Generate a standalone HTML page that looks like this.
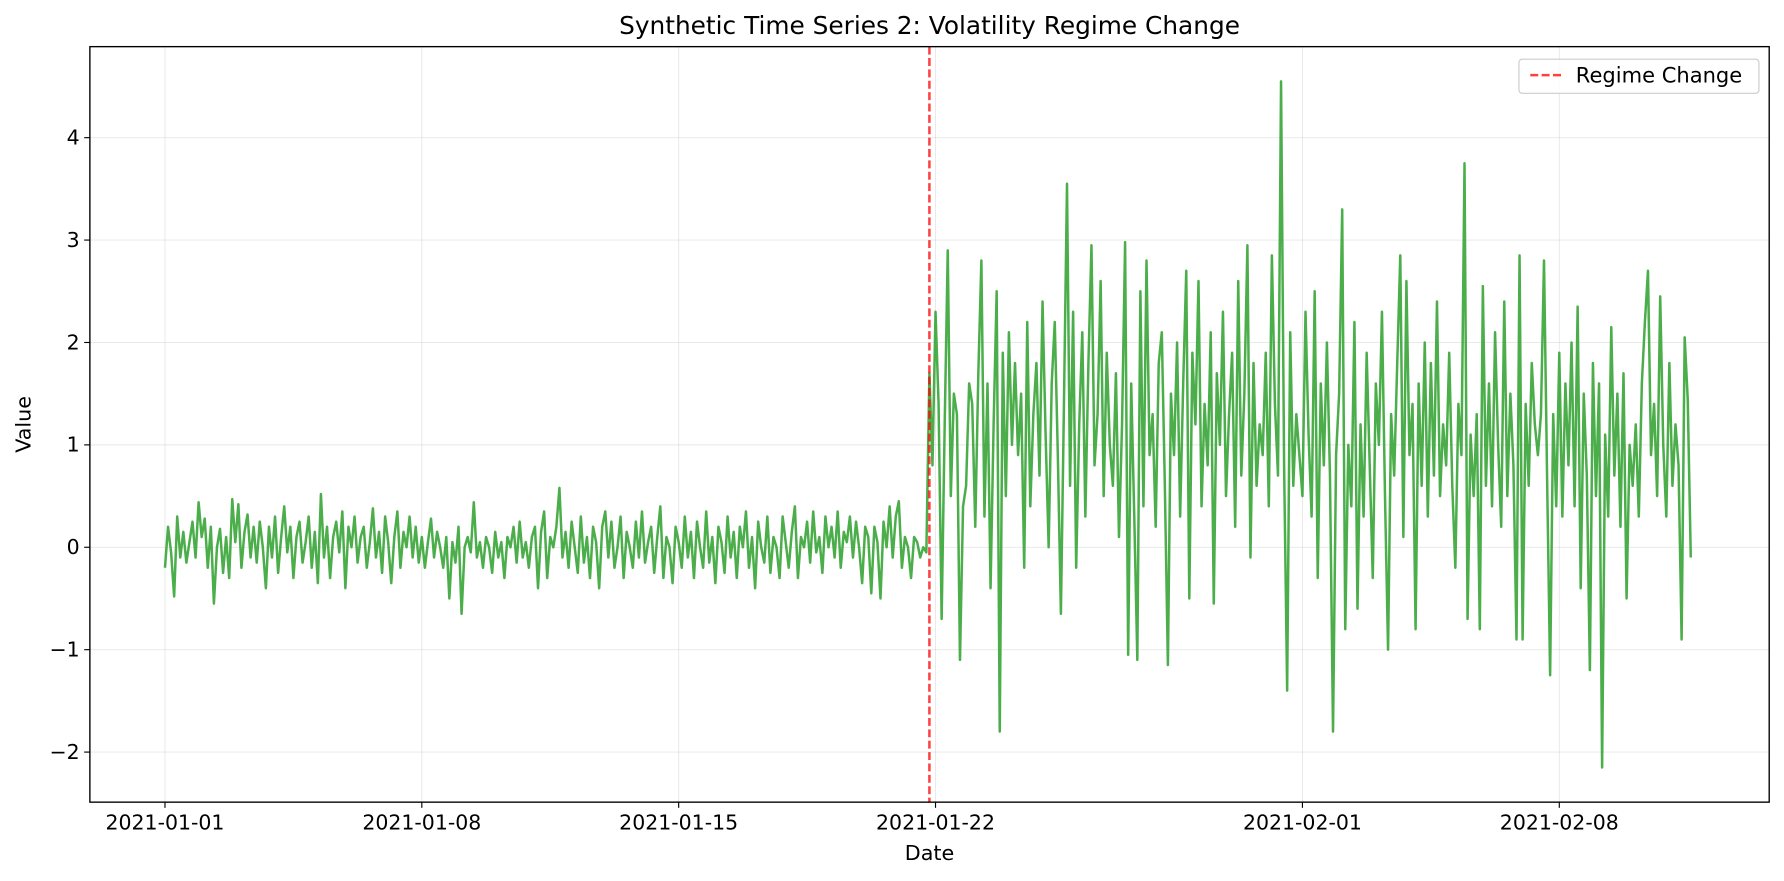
<!DOCTYPE html>
<html><head><meta charset="utf-8"><style>
html,body{margin:0;padding:0;background:#fff;}
svg{display:block;font-family:"DejaVu Sans","Liberation Sans",sans-serif;}
</style></head><body>
<svg id="chart" width="1784" height="881" viewBox="0 0 1568 774.3" preserveAspectRatio="none" xmlns="http://www.w3.org/2000/svg">
<rect x="0" y="0" width="1568" height="775" fill="#fff"/>
<g id="grid"></g>
<g id="series"></g>
<g id="axes"></g>
<text x="817" y="30" text-anchor="middle" font-size="21.8">Synthetic Time Series 2: Volatility Regime Change</text>
<text x="817" y="756" text-anchor="middle" font-size="18.2">Date</text>
<text x="27" y="373" text-anchor="middle" font-size="18.2" transform="rotate(-90 27 373)">Value</text>
<g>
<rect x="1335" y="52" width="211" height="30" rx="3" fill="#fff" fill-opacity="0.8" stroke="#ccc"/>
<line x1="1345" y1="66" x2="1374" y2="66" stroke="#ff0000" stroke-opacity="0.75" stroke-width="2.2" stroke-dasharray="7,3"/>
<text x="1385" y="72.5" font-size="18.5">Regime Change</text>
</g>
</svg>
<script>
const values1=[-0.2,0.2,-0.05,-0.48,0.3,-0.1,0.15,-0.15,0.05,0.25,
-0.1,0.44,0.1,0.28,-0.2,0.2,-0.55,0.0,0.18,-0.25,
0.1,-0.3,0.47,0.05,0.42,-0.2,0.15,0.32,-0.1,0.2,
-0.15,0.25,0.0,-0.4,0.2,-0.1,0.3,-0.25,0.1,0.4,
-0.05,0.2,-0.3,0.1,0.25,-0.15,0.05,0.3,-0.2,0.15,
-0.35,0.52,-0.1,0.2,-0.3,0.1,0.25,-0.05,0.35,-0.4,
0.2,0.0,0.3,-0.15,0.1,0.2,-0.2,0.05,0.38,-0.1,
0.15,-0.25,0.3,0.05,-0.35,0.1,0.35,-0.2,0.15,0.0,
0.3,-0.1,0.2,-0.15,0.1,-0.2,0.05,0.28,-0.1,0.15,
0.0,-0.2,0.1,-0.5,0.05,-0.15,0.2,-0.65,0.0,0.1,
-0.05,0.44,-0.1,0.05,-0.2,0.1,0.0,-0.25,0.15,-0.1,
0.05,-0.3,0.1,0.0,0.2,-0.15,0.25,-0.1,0.05,-0.2,
0.1,0.2,-0.4,0.15,0.35,-0.3,0.1,0.0,0.2,0.58,
-0.1,0.15,-0.2,0.25,0.0,-0.25,0.3,-0.15,0.1,-0.3,
0.2,0.05,-0.4,0.2,0.35,-0.1,0.25,-0.2,0.0,0.3,
-0.3,0.15,0.0,-0.2,0.25,-0.1,0.35,-0.15,0.05,0.2,
-0.25,0.1,0.4,-0.3,0.1,0.0,-0.35,0.2,0.05,-0.2,
0.3,-0.1,0.15,-0.3,0.25,0.0,-0.2,0.35,-0.15,0.1,
-0.35,0.2,0.05,-0.25,0.3,-0.1,0.15,-0.3,0.2,0.0,
0.35,-0.2,0.1,-0.4,0.25,0.0,-0.15,0.3,-0.25,0.1,
0.0,-0.3,0.3,0.05,-0.2,0.15,0.4,-0.3,0.1,0.0,
0.25,-0.15,0.35,-0.05,0.1,-0.25,0.3,0.0,0.2,-0.1,
0.35,-0.2,0.15,0.05,0.3,-0.1,0.25,0.0,-0.35,0.2,
0.1,-0.45,0.2,0.05,-0.5,0.25,0.0,0.4,-0.1,0.3,
0.45,-0.2,0.1,0.0,-0.3,0.1,0.05,-0.1,0.0,-0.05];
const values2=[1.7,0.8,2.3,1.4,-0.7,1.2,2.9,0.5,1.5,1.3,
-1.1,0.4,0.6,1.6,1.4,0.2,1.7,2.8,0.3,1.6,
-0.4,1.2,2.5,-1.8,1.9,0.5,2.1,1.0,1.8,0.9,
1.5,-0.2,2.2,0.4,1.3,1.8,0.7,2.4,1.1,0.0,
1.6,2.2,0.9,-0.65,1.4,3.55,0.6,2.3,-0.2,1.2,
2.1,0.3,1.8,2.95,0.8,1.3,2.6,0.5,1.9,1.0,
0.6,1.7,0.1,1.2,2.98,-1.05,1.6,0.3,-1.1,2.5,
0.4,2.8,0.9,1.3,0.2,1.8,2.1,0.6,-1.15,1.5,
0.9,2.0,0.3,1.6,2.7,-0.5,1.9,1.2,2.6,0.4,
1.4,0.8,2.1,-0.55,1.7,1.0,2.3,0.5,1.3,1.9,
0.2,2.6,0.7,1.5,2.95,-0.1,1.8,0.6,1.2,0.9,
1.9,0.4,2.85,1.4,0.7,4.55,0.8,-1.4,2.1,0.6,
1.3,0.9,0.5,2.3,1.1,0.3,2.5,-0.3,1.6,0.8,
2.0,0.7,-1.8,0.9,1.5,3.3,-0.8,1.0,0.4,2.2,
-0.6,1.2,0.3,1.9,0.8,-0.3,1.6,1.0,2.3,0.5,
-1.0,1.3,0.7,1.8,2.85,0.1,2.6,0.9,1.4,-0.8,
1.6,0.6,2.0,0.3,1.8,0.7,2.4,0.5,1.2,0.8,
1.9,0.6,-0.2,1.4,0.9,3.75,-0.7,1.1,0.5,1.3,
-0.8,2.55,0.6,1.6,0.4,2.1,1.0,0.2,2.4,0.5,
1.5,0.8,-0.9,2.85,-0.9,1.4,0.6,1.8,1.2,0.9,
1.3,2.8,0.7,-1.25,1.3,0.4,1.9,0.3,1.6,0.8,
2.0,0.4,2.35,-0.4,1.5,0.7,-1.2,1.8,0.5,1.6,
-2.15,1.1,0.3,2.15,0.7,1.5,0.2,1.7,-0.5,1.0,
0.6,1.2,0.3,1.6,2.2,2.7,0.9,1.4,0.5,2.45,
1.0,0.3,1.8,0.6,1.2,0.8,-0.9,2.05,1.45,-0.1];
const stepHours=2;
const regimeChangeHour=500;
const xTickDays=[0,7,14,21,31,38];
const xTickLabels=["2021-01-01","2021-01-08","2021-01-15","2021-01-22","2021-02-01","2021-02-08"];
const yTicks=[-2,-1,0,1,2,3,4];
const yTickLabels=["\u22122","\u22121","0","1","2","3","4"];

const NS="http://www.w3.org/2000/svg";
const L=79,R=1555,T=41,B=705;
function xHour(h){return 145+h*(32.25/24);}
function xDay(d){return xHour(d*24);}
function yVal(v){return 481-v*90;}
function mk(tag,attrs,parent){const e=document.createElementNS(NS,tag);for(const k in attrs)e.setAttribute(k,attrs[k]);parent.appendChild(e);return e;}
const grid=document.getElementById('grid'),axes=document.getElementById('axes'),series=document.getElementById('series');
xTickDays.forEach((d,i)=>{const x=xDay(d);
 const g=mk('line',{x1:x,x2:x,y1:T,y2:B,stroke:'#b0b0b0','stroke-opacity':0.3,'stroke-width':0.8},grid);
 
 
 mk('line',{x1:x,x2:x,y1:B,y2:B+5,stroke:'#000','stroke-width':1},axes);
 const t=mk('text',{x:x,y:B+24,'text-anchor':'middle','font-size':18},axes);t.textContent=xTickLabels[i];
 
 
});
yTicks.forEach((v,i)=>{const y=yVal(v);
 const g=mk('line',{x1:L,x2:R,y1:y,y2:y,stroke:'#b0b0b0','stroke-opacity':0.3,'stroke-width':0.8},grid);
 
 
 mk('line',{x1:L-5,x2:L,y1:y,y2:y,stroke:'#000','stroke-width':1},axes);
 const t=mk('text',{x:L-9,y:y+6,'text-anchor':'end','font-size':18},axes);t.textContent=yTickLabels[i];
 
 
});
const all=values1.concat(values2);
let d='';all.forEach((v,i)=>{d+=(i?'L':'M')+xHour(i*stepHours).toFixed(2)+','+yVal(v).toFixed(2);});
const p=mk('path',{d:d,fill:'none',stroke:'#2ca02c','stroke-opacity':0.85,'stroke-width':2.2,'stroke-linejoin':'round'},series);


const rx=xHour(regimeChangeHour);
const rl=mk('line',{x1:rx,x2:rx,y1:T,y2:B,stroke:'#ff0000','stroke-opacity':0.75,'stroke-width':2.2,'stroke-dasharray':'7,3'},series);


const fr=mk('rect',{x:L,y:T,width:R-L,height:B-T,fill:'none',stroke:'#000','stroke-width':1.2},axes);


</script>
</body></html>
